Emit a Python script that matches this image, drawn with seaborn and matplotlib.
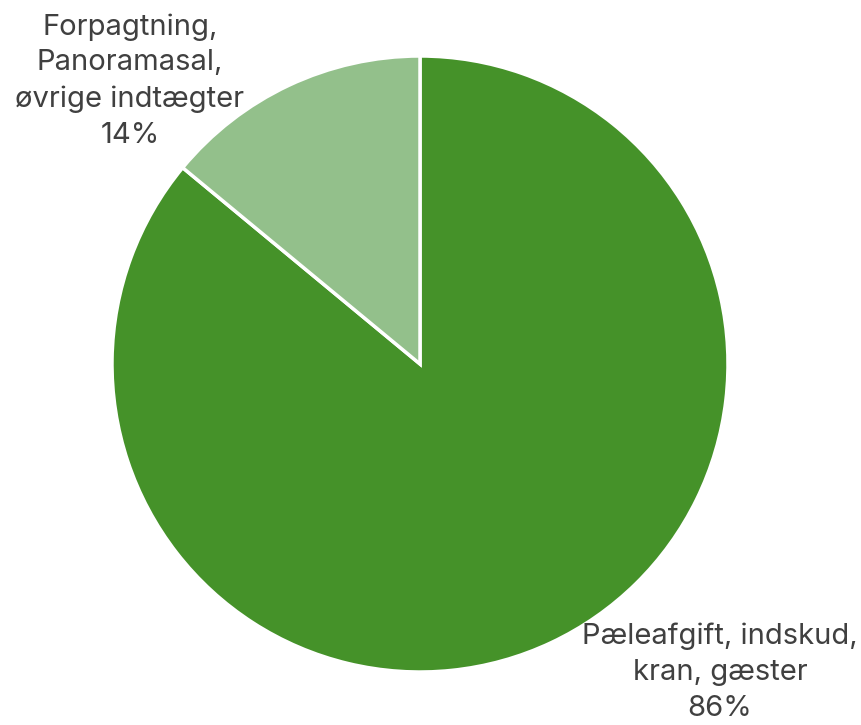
import matplotlib
matplotlib.use("Agg")
import matplotlib.pyplot as plt
import seaborn as sns

categories = ["Pæleafgift, indskud,\nkran, gæster", "Forpagtning,\nPanoramasal,\nøvrige indtægter"]
values = [86, 14]
colors = ["#459229", "#93C08B"]

sns.set_theme(style="white")
plt.rcParams['font.family'] = ['Inter', 'DejaVu Sans']

W, H = 861, 725
fig = plt.figure(figsize=(W / 100, H / 100), dpi=100)
cx, cy, R = 420, 364, 308
ax = fig.add_axes([(cx - R) / W, (H - cy - R) / H, 2 * R / W, 2 * R / H])

wedges, _ = ax.pie(values, colors=colors, startangle=90, counterclock=False,
                   wedgeprops=dict(edgecolor="white", linewidth=2.5))
ax.set_xlim(-1, 1)
ax.set_ylim(-1, 1)
ax.axis("off")

label_pos = [(720, 672), (130, 81)]
for cat, v, (px, py) in zip(categories, values, label_pos):
    ax.text((px - cx) / R, (cy - py) / R, f"{cat}\n{v}%", ha="center", va="center",
            fontsize=21, color="#404040", linespacing=1.42, clip_on=False)

fig.savefig("out.png", dpi=100)
